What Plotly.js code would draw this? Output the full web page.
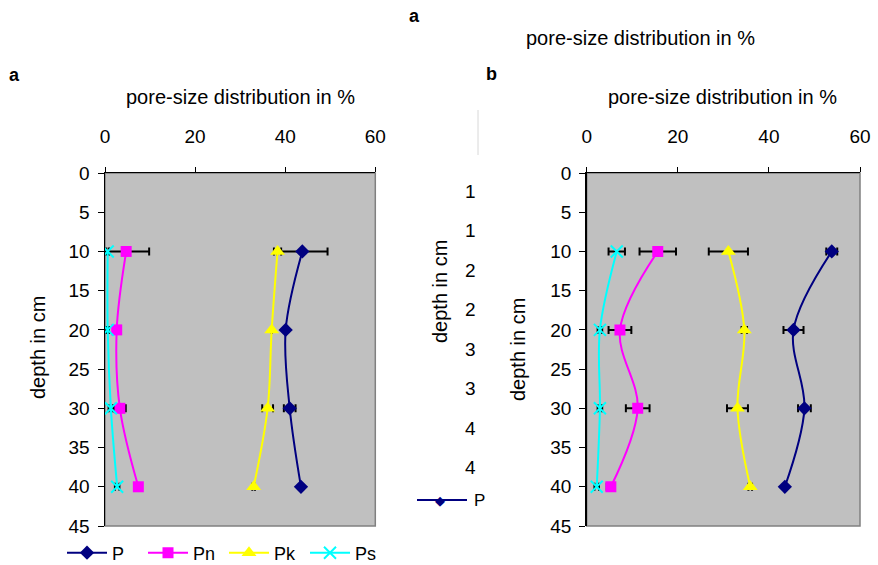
<!DOCTYPE html>
<html>
<head>
<meta charset="utf-8">
<script src="https://cdn.plot.ly/plotly-3.0.1.min.js"></script>
<style>html,body{margin:0;padding:0;background:#fff;}#chart{width:878px;height:565px;}</style>
</head>
<body>
<div id="chart"></div>
<script>
// depth (cm)
const depths = [10, 20, 30, 40];
const seriesNames = ["P", "Pn", "Pk", "Ps"];
// panel a values (%) and error half-widths
const aP = [43.8, 40.1, 41.0, 43.5];
const aPerr = [5.6, 0, 1.3, 0.3];
const aPn = [4.7, 2.6, 3.3, 7.4];
const aPnErr = [5.1, 0.3, 1.3, 0.4];
const aPk = [38.3, 37.0, 36.1, 33.0];
const aPkErr = [0.8, 0, 1.2, 0.3];
const aPs = [0.6, 0.6, 1.3, 2.7];
const aPsErr = [0.3, 0.3, 0.5, 0.5];
// panel b values (%) and error half-widths
const bP = [53.8, 45.4, 47.8, 43.5];
const bPerr = [1.2, 2.2, 1.4, 0];
const bPn = [15.6, 7.3, 11.2, 5.3];
const bPnErr = [4.0, 2.5, 2.6, 0.9];
const bPk = [31.1, 34.6, 33.1, 35.9];
const bPkErr = [4.3, 0.6, 2.3, 0.4];
const bPs = [6.6, 2.9, 2.9, 2.2];
const bPsErr = [1.8, 0.5, 0.5, 0.5];
// axis ticks
const xTicks = [0, 20, 40, 60];
const yTicks = [0, 5, 10, 15, 20, 25, 30, 35, 40, 45];
const hiddenTickLabels = ["1", "1", "2", "2", "3", "3", "4", "4"];

const colors = ["#000080", "#FF00FF", "#FFFF00", "#00FFFF"];
const symbols = ["diamond", "square", "triangle-up", "x-thin-open"];
const sizes = [11, 11, 13, 12];

function mk(i, xv, err, xa, ya, showleg) {
  return {
    type: "scatter", mode: "lines+markers",
    x: xv, y: depths, xaxis: xa, yaxis: ya,
    name: seriesNames[i], showlegend: showleg,
    line: {color: colors[i], width: 2, shape: "spline", smoothing: 1},
    marker: {symbol: symbols[i], size: sizes[i], color: colors[i],
             line: {color: colors[i], width: i === 3 ? 2 : 0}},
    error_x: {type: "data", array: err, visible: true, color: "#000", thickness: 2, width: 4}
  };
}

const traces = [
  mk(0, aP, aPerr, "x", "y", true),
  mk(1, aPn, aPnErr, "x", "y", true),
  mk(2, aPk, aPkErr, "x", "y", true),
  mk(3, aPs, aPsErr, "x", "y", true),
  mk(0, bP, bPerr, "x2", "y2", false),
  mk(1, bPn, bPnErr, "x2", "y2", false),
  mk(2, bPk, bPkErr, "x2", "y2", false),
  mk(3, bPs, bPsErr, "x2", "y2", false)
];

const W = 878, H = 565;
const px = v => v / W, py = v => 1 - v / H;
const fontFam = "Liberation Sans, Arial, sans-serif";
const tickSize = 19, titleSize = 20;

function xax(dom) {
  return {domain: dom, range: [0, 60], side: "top", tickvals: xTicks, ticks: "outside", ticklen: 5,
    ticklabelstandoff: 16,
    tickcolor: "#000", showline: true, linecolor: "#000", linewidth: 1.5, showgrid: false, zeroline: false,
    tickfont: {size: tickSize, color: "#000", family: fontFam}, fixedrange: true};
}
function yax(anchor) {
  return {domain: [py(526), py(173)], range: [45, 0], tickvals: yTicks, ticks: "outside", ticklen: 6,
    ticklabelstandoff: 4,
    tickcolor: "#000", showline: true, linecolor: "#000", linewidth: 1.5, showgrid: false, zeroline: false,
    anchor: anchor, tickfont: {size: tickSize, color: "#000", family: fontFam}, fixedrange: true};
}

const ann = [];
function t(text, x, y, opts) {
  ann.push(Object.assign({text: text, x: px(x), y: py(y), xref: "paper", yref: "paper", showarrow: false,
    font: {size: titleSize, color: "#000", family: fontFam}, xanchor: "center", yanchor: "middle"}, opts || {}));
}
// hidden back-panel artifact
t("<b>a</b>", 414, 16, {font: {size: 18, color: "#000", family: fontFam}});
t("pore-size distribution in %", 640, 38);
t("depth in cm", 440, 292, {textangle: -90});
hiddenTickLabels.forEach((s, i) => t(s, 471, 191 + i * 39.5, {font: {size: tickSize, color: "#000", family: fontFam}}));
t("P", 472, 500, {font: {size: 17, color: "#000", family: fontFam}, xanchor: "left"});
t("\u25C6", 440, 500, {font: {size: 13, color: "#000080", family: "DejaVu Sans"}});
// panel a
t("<b>a</b>", 14, 75, {font: {size: 18, color: "#000", family: fontFam}});
t("pore-size distribution in %", 240, 97);
t("depth in cm", 38, 348, {textangle: -90});
// panel b
t("<b>b</b>", 491, 74, {font: {size: 18, color: "#000", family: fontFam}});
t("pore-size distribution in %", 722, 97);
t("depth in cm", 518, 350, {textangle: -90});

const shapes = [
  {type: "rect", xref: "paper", yref: "paper", x0: px(105), x1: px(375.3), y0: py(526), y1: py(173),
   line: {color: "#808080", width: 1.5}, layer: "below"},
  {type: "rect", xref: "paper", yref: "paper", x0: px(586.7), x1: px(860), y0: py(526), y1: py(173),
   line: {color: "#808080", width: 1.5}, layer: "below"},
  {type: "line", xref: "paper", yref: "paper", x0: px(417), x1: px(467), y0: py(500), y1: py(500),
   line: {color: "#000080", width: 2}},
  {type: "line", xref: "paper", yref: "paper", x0: px(478), x1: px(478), y0: py(110), y1: py(155),
   line: {color: "#d8d8d8", width: 1}}
];

const layout = {
  width: W, height: H,
  margin: {l: 0, r: 0, t: 0, b: 0, pad: 0, autoexpand: false},
  paper_bgcolor: "#fff", plot_bgcolor: "#C0C0C0",
  font: {family: fontFam, color: "#000", size: 16},
  xaxis: Object.assign(xax([px(105), px(375.3)]), {anchor: "y"}),
  yaxis: yax("x"),
  xaxis2: Object.assign(xax([px(586.7), px(860)]), {anchor: "y2"}),
  yaxis2: yax("x2"),
  showlegend: true,
  legend: {orientation: "h", x: px(62), y: py(553), xanchor: "left", yanchor: "middle",
    font: {size: 18, color: "#000", family: fontFam}, bgcolor: "rgba(0,0,0,0)",
    entrywidth: 26, entrywidthmode: "pixels", itemwidth: 40, tracegroupgap: 0},
  annotations: ann,
  shapes: shapes
};

Plotly.newPlot("chart", traces, layout, {displayModeBar: false, staticPlot: true});
</script>
</body>
</html>
